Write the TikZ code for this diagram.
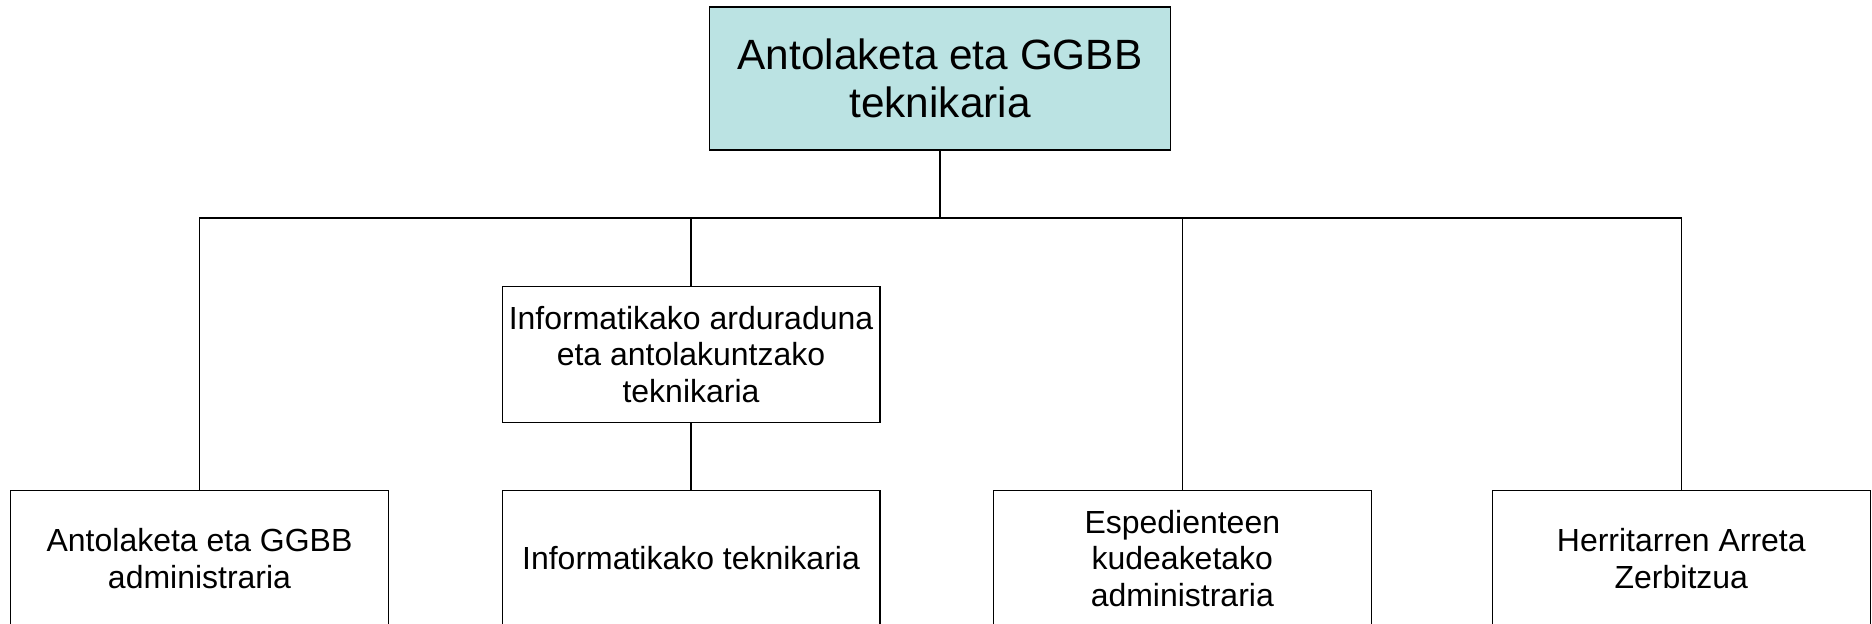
\documentclass[tikz,border=0pt]{standalone}
\usepackage{fontspec}
\setmainfont{Liberation Sans}
\definecolor{topfill}{HTML}{BBE3E3}
\tikzset{
  box/.style={draw=black, line width=0.6pt, fill=white, rectangle, align=center, inner sep=0pt,
    minimum width=7.56cm, minimum height=2.72cm, font=\fontsize{18.2}{20.9}\selectfont},
  topbox/.style={box, fill=topfill, minimum width=9.24cm, minimum height=2.86cm,
    font=\fontsize{24.1}{27.7}\selectfont},
  link/.style={draw=black, line width=0.6pt}
}
\begin{document}
\begin{tikzpicture}[x=0.02cm, y=-0.02cm]
\useasboundingbox (0,0) rectangle (1872,624);
\clip (0,0) rectangle (1872,624);
\fill[white] (0,0) rectangle (1872,624);
\node[topbox] (top) at (940,78.5) {Antolaketa eta GGBB\\teknikaria};
\node[box] (mid) at (691,354.5) {Informatikako arduraduna\\eta antolakuntzako\\teknikaria};
\node[box] (c1) at (199.5,558.5) {Antolaketa eta GGBB\\administraria};
\node[box] (c2) at (691,558.5) {Informatikako teknikaria};
\node[box] (c3) at (1182.3,558.5) {Espedienteen\\kudeaketako\\administraria};
\node[box] (c4) at (1681.3,558.5) {Herritarren Arreta\\Zerbitzua};
\coordinate (bar) at (940,218);
\draw[link] (top.south) -- (bar);
\draw[link] (bar) -| (c1.north);
\draw[link] (bar) -| (mid.north);
\draw[link] (bar) -| (c3.north);
\draw[link] (bar) -| (c4.north);
\draw[link] (mid.south) -- (c2.north);
\end{tikzpicture}
\end{document}
